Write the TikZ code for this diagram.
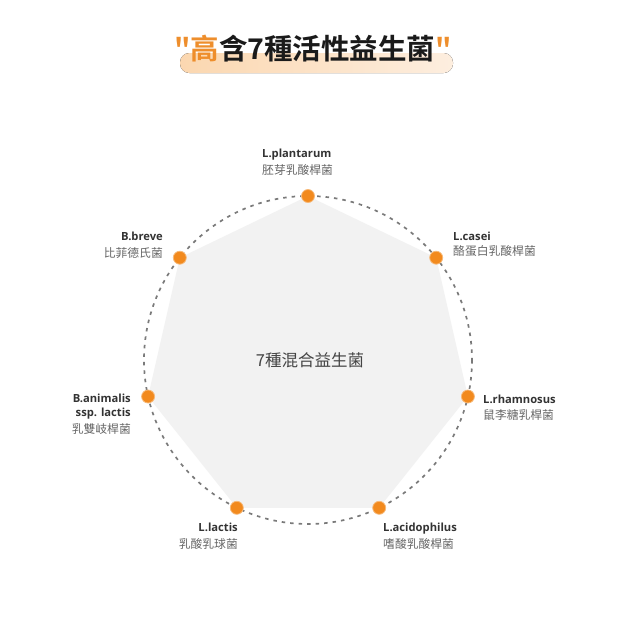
\documentclass[tikz,border=0pt]{standalone}
\usepackage{fontspec}
\setmainfont{Open Sans}
\newfontfamily\cjk{Noto Sans CJK TC}[BoldFont={Noto Sans CJK TC Bold}]
\definecolor{orng}{HTML}{F28A1E}
\definecolor{titleor}{HTML}{EE8E2C}
\definecolor{hlA}{HTML}{FBD7B0}
\definecolor{hlB}{HTML}{FDEEDF}
\definecolor{polyfill}{HTML}{F2F2F2}
\definecolor{ringgray}{HTML}{7A7A7A}
\definecolor{latintext}{HTML}{333333}
\definecolor{cjktext}{HTML}{666666}
\definecolor{centertext}{HTML}{444444}
\definecolor{titletext}{HTML}{1A1A1A}
\tikzset{
  dot/.style={circle, fill=orng, draw=orng!60, line width=0.8pt, minimum size=13pt, inner sep=0pt},
  latinlbl/.style={inner sep=0pt, text=latintext, font=\bfseries\fontsize{11.2}{13}\selectfont},
  cjklbl/.style={inner sep=0pt, text=cjktext, font=\cjk\fontsize{11.8}{13}\selectfont},
}
\begin{document}
\begin{tikzpicture}[x=1pt,y=-1pt]
\useasboundingbox[fill=white] (0,0) rectangle (630,630);
% title highlight
\fill[rounded corners=9.5pt, left color=hlA, right color=hlB] (180,53) rectangle (453,73);
\node[inner sep=0pt, text=titletext] (title) at (313,49) {\cjk\bfseries\fontsize{28.5}{30}\selectfont\textcolor{titleor}{"高}含7種活性益生菌\textcolor{titleor}{"}};
% heptagon
\coordinate (c) at (308,360);
\coordinate (p0) at (308,196);
\coordinate (p1) at (436.2,257.7);
\coordinate (p2) at (467.9,396.5);
\coordinate (p3) at (379.2,507.8);
\coordinate (p4) at (236.8,507.8);
\coordinate (p5) at (148.1,396.5);
\coordinate (p6) at (179.8,257.7);
\fill[polyfill] (p0) -- (p1) -- (p2) -- (p3) -- (p4) -- (p5) -- (p6) -- cycle;
\draw[ringgray, line width=1.7pt, dash pattern=on 3.5pt off 5pt] (c) circle[radius=164];
\foreach \i in {0,...,6} { \node[dot] (d\i) at (p\i) {}; }
\node[inner sep=0pt, text=centertext, font=\cjk\fontsize{16.5}{18}\selectfont] (center) at (310,360) {7種混合益生菌};
% labels
\node[latinlbl, anchor=base west] (l0) at (262,157) {L.plantarum};
\node[cjklbl, anchor=base west] (k0) at (262,174) {胚芽乳酸桿菌};
\node[latinlbl, anchor=base west] (l1) at (453,240) {L.casei};
\node[cjklbl, anchor=base west] (k1) at (453,255.5) {酪蛋白乳酸桿菌};
\node[latinlbl, anchor=base west] (l2) at (483,403) {L.rhamnosus};
\node[cjklbl, anchor=base west] (k2) at (483,419) {鼠李糖乳桿菌};
\node[latinlbl, anchor=base west] (l3) at (383,531) {L.acidophilus};
\node[cjklbl, anchor=base west] (k3) at (383,548) {嗜酸乳酸桿菌};
\node[latinlbl, anchor=base east] (l4) at (238,531) {L.lactis};
\node[cjklbl, anchor=base east] (k4) at (238,548) {乳酸乳球菌};
\node[latinlbl, anchor=base east] (l5) at (131,402) {B.animalis};
\node[latinlbl, anchor=base east] (l5b) at (131,416) {ssp. lactis};
\node[cjklbl, anchor=base east] (k5) at (131,433) {乳雙岐桿菌};
\node[latinlbl, anchor=base east] (l6) at (163,240) {B.breve};
\node[cjklbl, anchor=base east] (k6) at (163,257) {比菲德氏菌};
\end{tikzpicture}
\end{document}
